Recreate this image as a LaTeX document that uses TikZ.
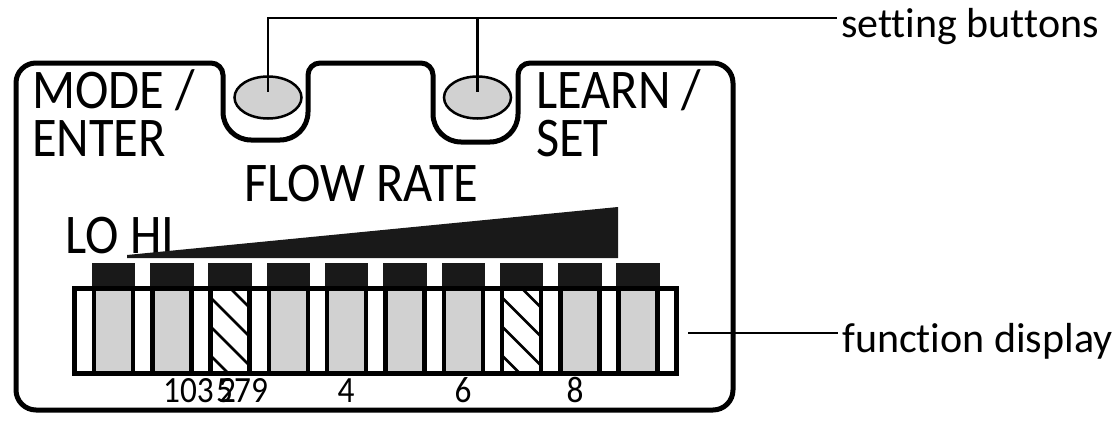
\documentclass[tikz,border=0pt]{standalone}
\usepackage{fontspec}
\setmainfont{Carlito}[Ligatures=NoCommon]
\newfontfamily\panelfont{Carlito}[Ligatures=NoCommon, FakeStretch=0.9]
\usetikzlibrary{shapes.geometric}

\begin{document}
\begin{tikzpicture}[x=1pt, y=-1pt,
    btn/.style={ellipse, draw, line width=2.5pt, fill=black!18, minimum width=67pt, minimum height=42pt, inner sep=0pt},
    bar/.style={draw, line width=4.5pt, fill=black!18},
    hbar/.style={draw, line width=4.5pt, fill=white},
    barcap/.style={fill=black!90},
    lbl/.style={font=\panelfont\fontsize{56}{48}\selectfont, inner sep=0pt, anchor=base west},
    num/.style={font=\panelfont\fontsize{37}{37}\selectfont, inner sep=0pt, anchor=base west},
    note/.style={font=\fontsize{42}{42}\selectfont, inner xsep=4pt, inner ysep=0pt, text height=38pt, text depth=0pt, anchor=west},
    lead/.style={line width=2.5pt}]
    \useasboundingbox (0,0) rectangle (1114,423);

    % panel outline with the two button notches
    \draw[line width=5pt, rounded corners=20pt] (16,236) -- (16,63) [rounded corners=12pt] -- (223,63) [rounded corners=28pt] -- (223,140) -- (308,140) [rounded corners=12pt] -- (308,63) -- (433,63) [rounded corners=28pt] -- (433,142) -- (518,142) [rounded corners=12pt] -- (518,63) [rounded corners=20pt] -- (733,63) -- (733,410) -- (16,410) -- cycle;

    \node[btn] (btn1) at (268,97.5) {};
    \node[btn] (btn2) at (477.5,97.5) {};

    \node[lbl, align=left] (mode) at (32,156) {MODE /\\ENTER};
    \node[lbl, align=left] (learn) at (536,156) {LEARN /\\SET};
    \node[lbl] (flow) at (244,201) {FLOW RATE};
    \node[lbl] (lohi) at (65,253) {LO HI};

    % ramp
    \fill[black!90] (127,255) -- (618,207) -- (618,258) -- (127,258) -- cycle;

    % caps
    \fill[barcap] (91.75,263) rectangle (135.25,288);
    \fill[barcap] (150.05,263) rectangle (193.55,288);
    \fill[barcap] (208.35,263) rectangle (251.85,288);
    \fill[barcap] (266.65,263) rectangle (310.15,288);
    \fill[barcap] (324.95,263) rectangle (368.45,288);
    \fill[barcap] (383.25,263) rectangle (426.75,288);
    \fill[barcap] (441.55,263) rectangle (485.05,288);
    \fill[barcap] (499.85,263) rectangle (543.35,288);
    \fill[barcap] (558.15,263) rectangle (601.65,288);
    \fill[barcap] (616.45,263) rectangle (659.95,288);

    % bars
    \draw[bar] (94,288) rectangle (133,373);
    \draw[bar] (152.3,288) rectangle (191.3,373);
    \draw[hbar] (210.6,288) rectangle (249.6,373);
    \draw[bar] (268.9,288) rectangle (307.9,373);
    \draw[bar] (327.2,288) rectangle (366.2,373);
    \draw[bar] (385.5,288) rectangle (424.5,373);
    \draw[bar] (443.8,288) rectangle (482.8,373);
    \draw[hbar] (502.1,288) rectangle (541.1,373);
    \draw[bar] (560.4,288) rectangle (599.4,373);
    \draw[bar] (618.7,288) rectangle (657.7,373);

    % hatching
    \begin{scope}
        \clip (210.6,288) rectangle (249.6,373);
        \draw[lead] (205,263) -- (256,314);
        \draw[lead] (205,292) -- (256,343);
        \draw[lead] (205,321) -- (256,372);
        \draw[lead] (205,350) -- (256,401);
    \end{scope}
    \begin{scope}
        \clip (502.1,288) rectangle (541.1,373);
        \draw[lead] (496.5,263) -- (547.5,314);
        \draw[lead] (496.5,292) -- (547.5,343);
        \draw[lead] (496.5,321) -- (547.5,372);
        \draw[lead] (496.5,350) -- (547.5,401);
    \end{scope}
    \draw[line width=4.5pt] (210.6,288) rectangle (249.6,373);
    \draw[line width=4.5pt] (502.1,288) rectangle (541.1,373);

    \draw[line width=5pt] (74,288) rectangle (676,373);

    % numbers
    \node[num] (n103) at (163,402) {103};
    \node[num] (n5) at (216,402) {5};
    \node[num] (n2) at (219,402) {2};
    \node[num] (n79) at (234,402) {79};
    \node[num, anchor=base] (n4) at (346,402) {4};
    \node[num, anchor=base] (n6) at (463,402) {6};
    \node[num, anchor=base] (n8) at (575,402) {8};

    % call-outs
    \node[note] (setlbl) at (837,18) {setting buttons};
    \draw[lead] ([yshift=6pt]btn1.center) |- (setlbl.west);
    \draw[lead] ([yshift=6pt]btn2.center) |- (setlbl.west);

    \coordinate (fd) at (688,333);
    \node[note] (fdlbl) at (838,333) {function display};
    \draw[lead] (fd) -- (fdlbl.west);
\end{tikzpicture}
\end{document}
